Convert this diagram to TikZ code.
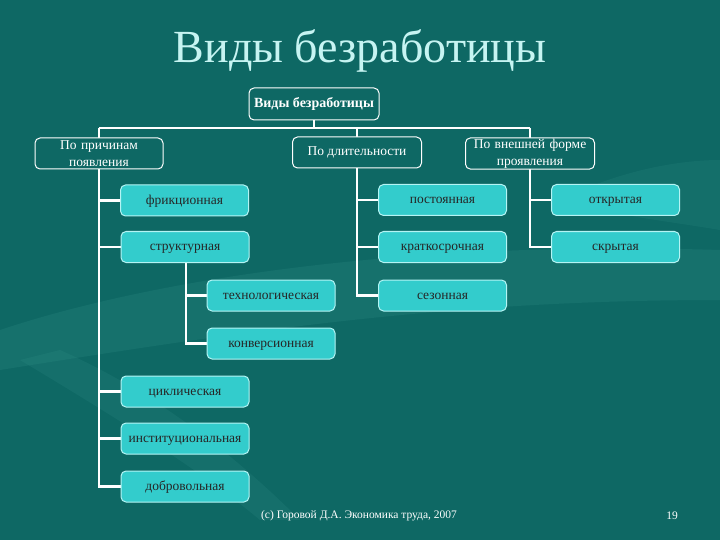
\documentclass[tikz,border=0pt]{standalone}
\usepackage{fontspec}
\setmainfont{Liberation Serif}
\usetikzlibrary{positioning}
\definecolor{bgteal}{HTML}{0E6864}
\definecolor{swoosh}{HTML}{3E9A94}
\definecolor{titlecol}{HTML}{C6F4F2}
\definecolor{cyanbox}{HTML}{33CCCC}
\definecolor{cyanedge}{HTML}{B4F4F4}
\pgfdeclarelayer{bg}
\pgfdeclarelayer{lines}
\pgfsetlayers{bg,lines,main}
\tikzset{
  catbox/.style={draw=white, line width=1pt, rounded corners=5pt, fill=bgteal,
    text=white, align=center, inner sep=1pt, font=\fontsize{13.5}{17}\selectfont},
  leafbox/.style={draw=cyanedge, line width=1pt, rounded corners=5pt, fill=cyanbox,
    text=black!85, align=center, inner sep=1pt, minimum width=128pt, minimum height=31pt,
    text height=10pt, text depth=2pt, font=\fontsize{13.5}{14}\selectfont},
  conn/.style={draw=white, line width=2.5pt}
}
\begin{document}
\begin{tikzpicture}[x=1pt,y=-1pt]
\begin{pgfonlayer}{bg}
\fill[bgteal] (0,0) rectangle (720,540);
\fill[swoosh, opacity=0.18] (0,330) .. controls (150,280) and (400,240) .. (720,250)
  -- (720,300) .. controls (450,300) and (250,330) .. (0,370) -- cycle;
\fill[swoosh, opacity=0.15] (20,360) .. controls (120,420) and (200,470) .. (260,520)
  -- (300,520) .. controls (230,450) and (150,390) .. (60,350) -- cycle;
\fill[swoosh, opacity=0.14] (560,200) .. controls (620,170) and (680,160) .. (720,160)
  -- (720,230) .. controls (660,220) and (610,215) .. (560,200) -- cycle;
\end{pgfonlayer}
\useasboundingbox (0,0) rectangle (720,540);

\node[text=titlecol, font=\fontsize{46}{46}\selectfont] (title) at (360,51) {Виды безработицы};

\node[catbox, minimum width=130pt, minimum height=32pt, text height=10pt, text depth=3pt, font=\bfseries\fontsize{14}{14}\selectfont] (top) at (314,104) {Виды безработицы};
\node[catbox, minimum width=128pt, minimum height=31pt, text width=120pt] (pr) at (99,153.5) {По причинам\\ появления};
\node[catbox, minimum width=129pt, minimum height=31pt, text height=10pt, text depth=3pt] (dl) at (357,152.5) {По длительности};
\node[catbox, minimum width=129pt, minimum height=31pt, text width=120pt] (vf) at (530,153.5) {По внешней форме\\ проявления};

\node[leafbox] (fr) at (184.5,200.5) {фрикционная};
\node[leafbox] (st) at (185,247) {структурная};
\node[leafbox] (te) at (271,295.5) {технологическая};
\node[leafbox] (ko) at (271,343.5) {конверсионная};
\node[leafbox] (ci) at (185,391.5) {циклическая};
\node[leafbox] (in) at (185,438.5) {институциональная};
\node[leafbox] (do) at (185,486.5) {добровольная};

\node[leafbox] (po) at (442.5,200) {постоянная};
\node[leafbox] (kr) at (442.5,247) {краткосрочная};
\node[leafbox] (se) at (442.5,295.5) {сезонная};

\node[leafbox] (ot) at (615.5,200) {открытая};
\node[leafbox] (sk) at (615.5,247) {скрытая};

\node[text=white, font=\fontsize{11.5}{12}\selectfont] (foot) at (359,516) {(c) Горовой Д.А. Экономика труда, 2007};
\node[text=white, font=\fontsize{11.5}{12}\selectfont] (pg) at (672,516) {19};

\coordinate (busL) at (99,128);
\coordinate (busM) at (357,128);
\coordinate (busR) at (530,128);
\coordinate (stx) at (186,0);

\begin{pgfonlayer}{lines}
\draw[conn] (top.south) -- (top.south |- busL);
\draw[conn] (busL) -- (busR);
\draw[conn] (busL) -- (busL |- do.west) -- (do.west);
\draw[conn] (busL |- fr.west) -- (fr.west);
\draw[conn] (busL |- st.west) -- (st.west);
\draw[conn] (busL |- ci.west) -- (ci.west);
\draw[conn] (busL |- in.west) -- (in.west);
\draw[conn] (stx |- st.south) -- (stx |- ko.west) -- (ko.west);
\draw[conn] (stx |- te.west) -- (te.west);
\draw[conn] (busM) -- (busM |- se.west) -- (se.west);
\draw[conn] (busM |- po.west) -- (po.west);
\draw[conn] (busM |- kr.west) -- (kr.west);
\draw[conn] (busR) -- (busR |- sk.west) -- (sk.west);
\draw[conn] (busR |- ot.west) -- (ot.west);
\end{pgfonlayer}
\end{tikzpicture}
\end{document}
